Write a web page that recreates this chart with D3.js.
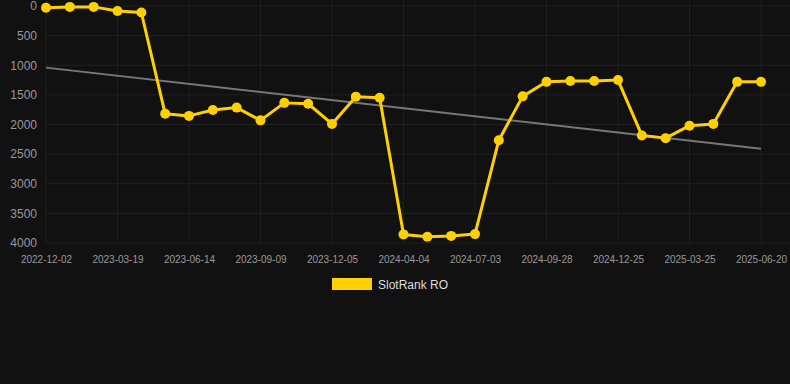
<!DOCTYPE html>
<html><head><meta charset="utf-8">
<script src="https://cdn.jsdelivr.net/npm/d3@7"></script>
<style>html,body{margin:0;padding:0;background:#111111;}svg{display:block;}</style>
</head><body><svg id="c" width="790" height="384"></svg>
<script>
const dates = ["2022-12-02","2022-12-28","2023-01-23","2023-03-19","2023-04-14","2023-05-10","2023-06-14","2023-07-10","2023-08-05","2023-09-09","2023-10-05","2023-10-31","2023-12-05","2024-01-20","2024-02-25","2024-04-04","2024-04-30","2024-05-30","2024-07-03","2024-07-29","2024-08-24","2024-09-28","2024-10-24","2024-11-19","2024-12-25","2025-01-20","2025-02-15","2025-03-25","2025-04-20","2025-05-16","2025-06-20"];
const ranks = [30,15,15,85,110,1820,1855,1755,1715,1930,1635,1650,1990,1530,1550,3855,3895,3880,3850,2265,1525,1280,1265,1265,1250,2185,2230,2020,1990,1280,1280];
const trend = [1040, 2410];
const yTicks = [0,500,1000,1500,2000,2500,3000,3500,4000];
const seriesName = "SlotRank RO";

(function(){
const svg = d3.select("#c");
const mLeft = 46, mRight = 761, mTop = 6, mBottom = 243;
const x = d3.scalePoint().domain(dates).range([mLeft, mRight]);
const y = d3.scaleLinear().domain([0,4000]).range([mTop, mBottom]);
const labelDates = dates.filter((d,i)=>i%3===0);
const font = "'Liberation Sans', Arial, sans-serif";

// grid
svg.append("g").selectAll("line").data(yTicks).join("line")
  .attr("x1", mLeft).attr("x2", 790).attr("y1", d=>y(d)).attr("y2", d=>y(d))
  .attr("stroke", "#212121").attr("stroke-width", 1);
svg.append("g").selectAll("line").data(labelDates).join("line")
  .attr("x1", d=>x(d)).attr("x2", d=>x(d)).attr("y1", 0).attr("y2", mBottom)
  .attr("stroke", "#1e1e1e").attr("stroke-width", 1);

// y axis labels
const yAxis = svg.append("g").attr("transform", `translate(${mLeft-9},0)`)
  .call(d3.axisLeft(y).tickValues(yTicks).tickSize(0).tickPadding(0).tickFormat(d3.format("d")));
yAxis.select(".domain").remove();
yAxis.selectAll("text").attr("fill","#999").style("font-family",font).style("font-size","12px");

// x axis labels
const xAxis = svg.append("g").attr("transform", `translate(0,${mBottom+8})`)
  .call(d3.axisBottom(x).tickValues(labelDates).tickSize(0).tickPadding(5));
xAxis.select(".domain").remove();
xAxis.selectAll("text").attr("fill","#999").style("font-family",font).style("font-size","10px");

// trend line
svg.append("line")
  .attr("x1", x(dates[0])).attr("x2", x(dates[dates.length-1]))
  .attr("y1", y(trend[0])).attr("y2", y(trend[1]))
  .attr("stroke", "#777").attr("stroke-width", 2);

// series
const color = "#FFD000";
svg.append("path").datum(ranks)
  .attr("d", d3.line().x((d,i)=>x(dates[i])).y(d=>y(d)))
  .attr("fill","none").attr("stroke",color).attr("stroke-width",3).attr("stroke-linejoin","round");
svg.append("g").selectAll("circle").data(ranks).join("circle")
  .attr("cx",(d,i)=>x(dates[i])).attr("cy",d=>y(d)).attr("r",5).attr("fill",color);

// legend
const lg = svg.append("g");
lg.append("rect").attr("x",332).attr("y",278).attr("width",40).attr("height",12).attr("fill",color);
lg.append("text").attr("x",378).attr("y",289).text(seriesName)
  .attr("fill","#ddd").style("font-family",font).style("font-size","12px");
})();
</script></body></html>
